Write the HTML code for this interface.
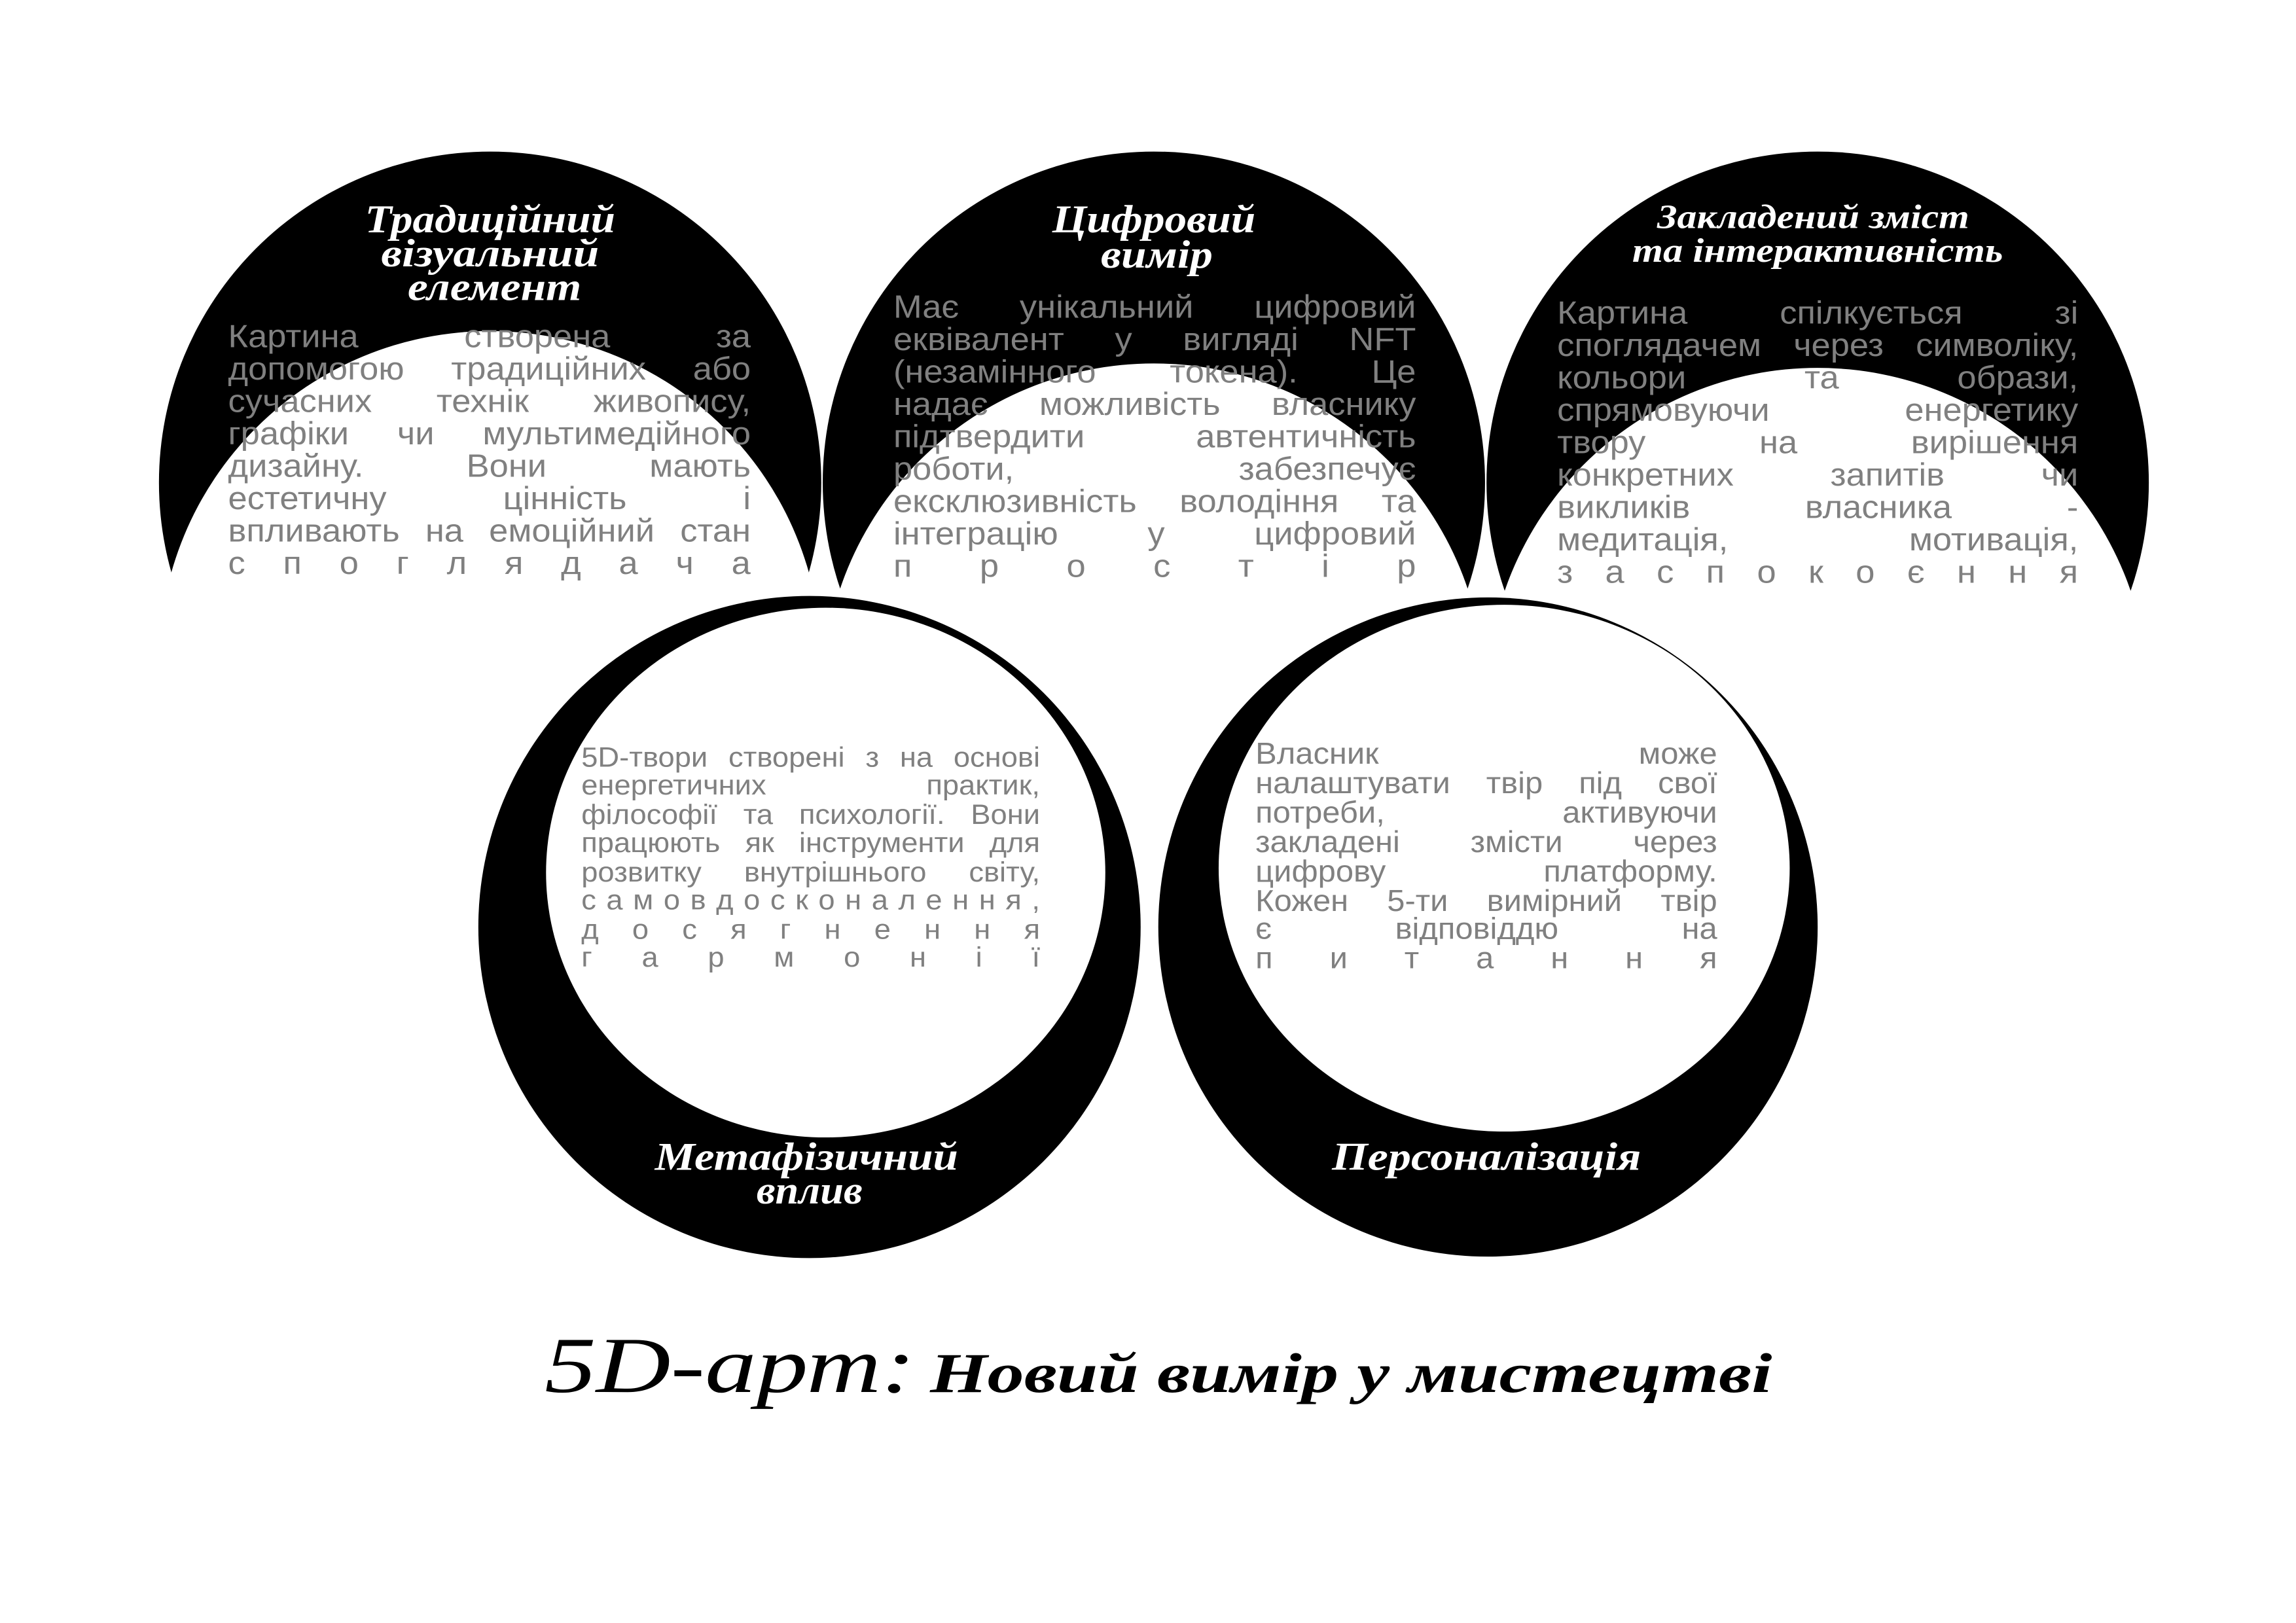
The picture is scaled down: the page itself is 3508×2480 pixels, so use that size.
<!DOCTYPE html>
<html><head><meta charset="utf-8"><style>
html,body{margin:0;padding:0;background:#fff;overflow:hidden}
#c{position:absolute;left:0;top:0;width:1560px;height:1103px;transform:scale(2.24872,2.24841);transform-origin:0 0}
svg{position:absolute;left:0;top:0;display:block}
.t{font-family:"Liberation Serif","DejaVu Serif",serif;font-style:italic;font-weight:bold;fill:#fff;text-anchor:middle}
.l{position:absolute;white-space:nowrap;text-align:justify;text-align-last:justify;transform-origin:0 0;font-family:"Liberation Sans","DejaVu Sans",sans-serif;color:#808080;line-height:1;transform:scaleX(1.06)}
.s{display:flex;justify-content:space-between}
.g1{font-size:22px;width:335px}
.g1r{font-size:22px;width:334px}
.g2{font-size:19px;width:294px}
.g3{font-size:20.5px;width:296px}
</style></head><body>
<div id="c">
<svg width="1560" height="1103" viewBox="0 0 1560 1103" xmlns="http://www.w3.org/2000/svg">
<defs>
<mask id="m1"><rect width="1560" height="1103" fill="#fff"/><circle cx="333" cy="450" r="225" fill="#000"/><rect x="0" y="400" width="1560" height="20" fill="#000"/></mask>
<mask id="m2"><rect width="1560" height="1103" fill="#fff"/><circle cx="784" cy="472" r="225" fill="#000"/><rect x="0" y="400" width="1560" height="20" fill="#000"/></mask>
<mask id="m3"><rect width="1560" height="1103" fill="#fff"/><circle cx="1235" cy="475" r="225" fill="#000"/><rect x="0" y="402" width="1560" height="20" fill="#000"/></mask>
</defs>
<circle cx="333" cy="328" r="225" fill="#000" mask="url(#m1)"/>
<circle cx="784" cy="328" r="225" fill="#000" mask="url(#m2)"/>
<circle cx="1235" cy="328" r="225" fill="#000" mask="url(#m3)"/>

<circle cx="550" cy="630" r="225" fill="#000"/>
<ellipse cx="561" cy="593" rx="190" ry="180" fill="#fff"/>
<circle cx="1011" cy="630" r="224" fill="#000"/>
<ellipse cx="1022" cy="590" rx="194" ry="179" fill="#fff"/>

<text class="t" font-size="27" x="333" y="158" textLength="170" lengthAdjust="spacingAndGlyphs">Традиційний</text>
<text class="t" font-size="27" x="333" y="181" textLength="148" lengthAdjust="spacingAndGlyphs">візуальний</text>
<text class="t" font-size="27" x="336" y="204" textLength="118" lengthAdjust="spacingAndGlyphs">елемент</text>
<text class="t" font-size="27" x="784" y="158" textLength="138" lengthAdjust="spacingAndGlyphs">Цифровий</text>
<text class="t" font-size="27" x="786" y="182" textLength="76" lengthAdjust="spacingAndGlyphs">вимір</text>
<text class="t" font-size="23" x="1232" y="155" textLength="212" lengthAdjust="spacingAndGlyphs">Закладений зміст</text>
<text class="t" font-size="23" x="1235" y="178" textLength="252" lengthAdjust="spacingAndGlyphs">та інтерактивність</text>
<text class="t" font-size="27" x="548" y="795" textLength="206" lengthAdjust="spacingAndGlyphs">Метафізичний</text>
<text class="t" font-size="27" x="550" y="818" textLength="72" lengthAdjust="spacingAndGlyphs">вплив</text>
<text class="t" font-size="27" x="1010" y="795" textLength="210" lengthAdjust="spacingAndGlyphs">Персоналізація</text>

<text font-family="Liberation Serif, DejaVu Serif, serif" font-style="italic" x="370" y="946" font-size="54" fill="#000" textLength="252" lengthAdjust="spacingAndGlyphs">5D-арт:</text>
<text font-family="Liberation Serif, DejaVu Serif, serif" font-style="italic" font-weight="bold" x="632" y="946" font-size="38" fill="#000" textLength="572" lengthAdjust="spacingAndGlyphs">Новий вимір у мистецтві</text>
</svg>

<div class="l g1" style="left:155px;top:218.4px">Картина створена за</div>
<div class="l g1" style="left:155px;top:240.4px">допомогою традиційних або</div>
<div class="l g1" style="left:155px;top:262.4px">сучасних технік живопису,</div>
<div class="l g1" style="left:155px;top:284.4px">графіки чи мультимедійного</div>
<div class="l g1" style="left:155px;top:306.4px">дизайну. Вони мають</div>
<div class="l g1" style="left:155px;top:328.4px">естетичну цінність і</div>
<div class="l g1" style="left:155px;top:350.4px">впливають на емоційний стан</div>
<div class="l g1 s" style="left:155px;top:372.4px"><span>с</span><span>п</span><span>о</span><span>г</span><span>л</span><span>я</span><span>д</span><span>а</span><span>ч</span><span>а</span></div>

<div class="l g1" style="left:607px;top:198.4px">Має унікальний цифровий</div>
<div class="l g1" style="left:607px;top:220.4px">еквівалент у вигляді NFT</div>
<div class="l g1" style="left:607px;top:242.4px">(незамінного токена). Це</div>
<div class="l g1" style="left:607px;top:264.4px">надає можливість власнику</div>
<div class="l g1" style="left:607px;top:286.4px">підтвердити автентичність</div>
<div class="l g1" style="left:607px;top:308.4px">роботи, забезпечує</div>
<div class="l g1" style="left:607px;top:330.4px">ексклюзивність володіння та</div>
<div class="l g1" style="left:607px;top:352.4px">інтеграцію у цифровий</div>
<div class="l g1 s" style="left:607px;top:374.4px"><span>п</span><span>р</span><span>о</span><span>с</span><span>т</span><span>і</span><span>р</span></div>

<div class="l g1r" style="left:1058px;top:202.4px">Картина спілкується зі</div>
<div class="l g1r" style="left:1058px;top:224.4px">споглядачем через символіку,</div>
<div class="l g1r" style="left:1058px;top:246.4px">кольори та образи,</div>
<div class="l g1r" style="left:1058px;top:268.4px">спрямовуючи енергетику</div>
<div class="l g1r" style="left:1058px;top:290.4px">твору на вирішення</div>
<div class="l g1r" style="left:1058px;top:312.4px">конкретних запитів чи</div>
<div class="l g1r" style="left:1058px;top:334.4px">викликів власника -</div>
<div class="l g1r" style="left:1058px;top:356.4px">медитація, мотивація,</div>
<div class="l g1r s" style="left:1058px;top:378.4px"><span>з</span><span>а</span><span>с</span><span>п</span><span>о</span><span>к</span><span>о</span><span>є</span><span>н</span><span>н</span><span>я</span></div>

<div class="l g2" style="left:395px;top:505.9px">5D-твори створені з на основі</div>
<div class="l g2" style="left:395px;top:525.4px">енергетичних практик,</div>
<div class="l g2" style="left:395px;top:544.9px">філософії та психології. Вони</div>
<div class="l g2" style="left:395px;top:564.4px">працюють як інструменти для</div>
<div class="l g2" style="left:395px;top:583.9px">розвитку внутрішнього світу,</div>
<div class="l g2 s" style="left:395px;top:603.4px"><span>с</span><span>а</span><span>м</span><span>о</span><span>в</span><span>д</span><span>о</span><span>с</span><span>к</span><span>о</span><span>н</span><span>а</span><span>л</span><span>е</span><span>н</span><span>н</span><span>я</span><span>,</span></div>
<div class="l g2 s" style="left:395px;top:622.9px"><span>д</span><span>о</span><span>с</span><span>я</span><span>г</span><span>н</span><span>е</span><span>н</span><span>н</span><span>я</span></div>
<div class="l g2 s" style="left:395px;top:642.4px"><span>г</span><span>а</span><span>р</span><span>м</span><span>о</span><span>н</span><span>і</span><span>ї</span></div>

<div class="l g3" style="left:853px;top:503.2px">Власник може</div>
<div class="l g3" style="left:853px;top:523.1px">налаштувати твір під свої</div>
<div class="l g3" style="left:853px;top:543px">потреби, активуючи</div>
<div class="l g3" style="left:853px;top:562.8px">закладені змісти через</div>
<div class="l g3" style="left:853px;top:582.7px">цифрову платформу.</div>
<div class="l g3" style="left:853px;top:602.5px">Кожен 5-ти вимірний твір</div>
<div class="l g3" style="left:853px;top:622.4px">є відповіддю на</div>
<div class="l g3 s" style="left:853px;top:642.2px"><span>п</span><span>и</span><span>т</span><span>а</span><span>н</span><span>н</span><span>я</span></div>
</div>
</body></html>
